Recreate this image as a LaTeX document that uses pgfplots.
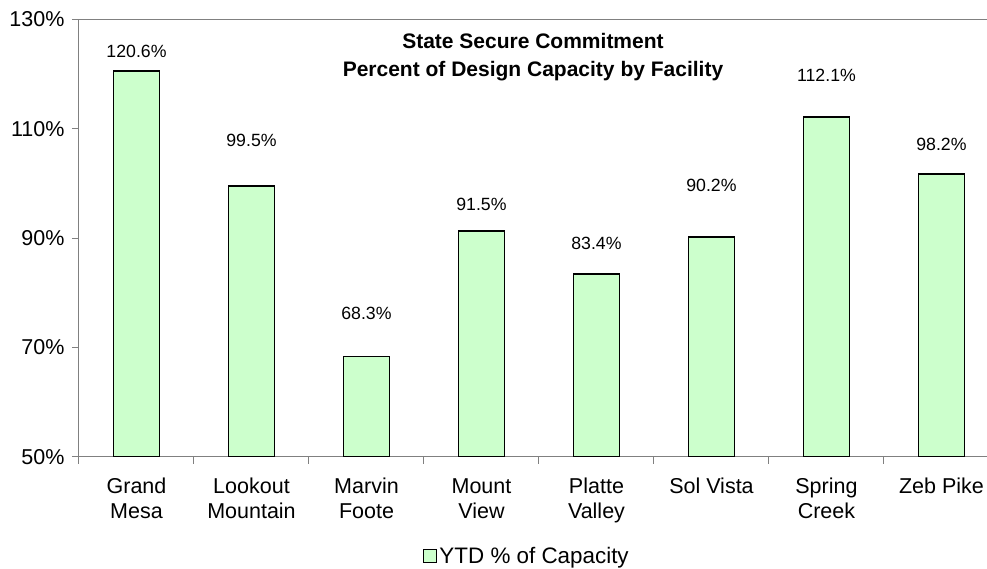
\documentclass[border=0pt]{standalone}
\usepackage{pgfplots}
\pgfplotsset{compat=1.18}
\usepackage{fontspec}
\setmainfont{Liberation Sans}
\definecolor{barfill}{HTML}{CCFFCC}
\definecolor{axgray}{HTML}{808080}
\begin{document}
\begin{tikzpicture}[x=1pt,y=1pt]
\begin{axis}[
  at={(0,0)}, anchor=south west,
  scale only axis,
  width=908pt, height=437.4pt,
  xmin=-0.5, xmax=7.396,
  ymin=50, ymax=130,
  axis x line*=box, axis y line*=left,
  axis line style={draw=axgray, line width=1pt},
  tick align=outside,
  tick pos=left,
  /pgf/number format/assume math mode=true,
  ytick={50,70,90,110,130},
  yticklabel={\pgfmathprintnumber{\tick}\%},
  major tick length=7pt,
  minor tick length=7pt,
  every tick/.style={draw=axgray, line width=1pt},
  xtick={0,1,2,3,4,5,6,7},
  xticklabels={Grand\strut\\Mesa,Lookout\strut\\Mountain,Marvin\strut\\Foote,Mount\strut\\View,Platte\strut\\Valley,Sol Vista\strut,Spring\strut\\Creek,Zeb Pike\strut},
  major x tick style={draw=none},
  minor xtick={-0.5,0.5,1.5,2.5,3.5,4.5,5.5,6.5},
  xticklabel style={align=center, font=\fontsize{21.5}{25.7}\selectfont, anchor=north, yshift=-8pt},
  yticklabel style={font=\fontsize{21.5}{25}\selectfont, xshift=-4pt},
  legend style={at={(0.4934,-0.227)}, anchor=center, draw=none, fill=none,
    font=\fontsize{22.4}{26}\selectfont, inner sep=0pt},
  legend image code/.code={\draw[fill=barfill, draw=black, line width=1.2pt] (0pt,-6.5pt) rectangle (13pt,6.5pt);},
  legend cell align=left,
  clip=true,
]
\addplot[ybar, bar width=46pt, fill=barfill, draw=black, line width=1.6pt] coordinates {
  (0,120.6) (1,99.5) (2,68.3) (3,91.3) (4,83.4) (5,90.2) (6,112.1) (7,101.7)
};
\addlegendentry{YTD \% of Capacity}
\addplot[draw=none, mark=none, nodes near coords, point meta=explicit symbolic,
  nodes near coords style={anchor=center, font=\fontsize{17.7}{20}\selectfont, inner sep=0pt},
  forget plot] table[meta=label] {
x y label
0 124.1 120.6\%
1 107.9 99.5\%
2 76.3 68.3\%
3 96.2 91.5\%
4 89.0 83.4\%
5 99.7 90.2\%
6 119.8 112.1\%
7 107.2 98.2\%
};
\node[align=center, font=\bfseries\fontsize{21}{28}\selectfont] at (axis cs:3.448,123.1) {State Secure Commitment\\Percent of Design Capacity by Facility};
\end{axis}
\pgfresetboundingbox
\path (-79,-111.3) rectangle (908,456.7);
\end{tikzpicture}
\end{document}
